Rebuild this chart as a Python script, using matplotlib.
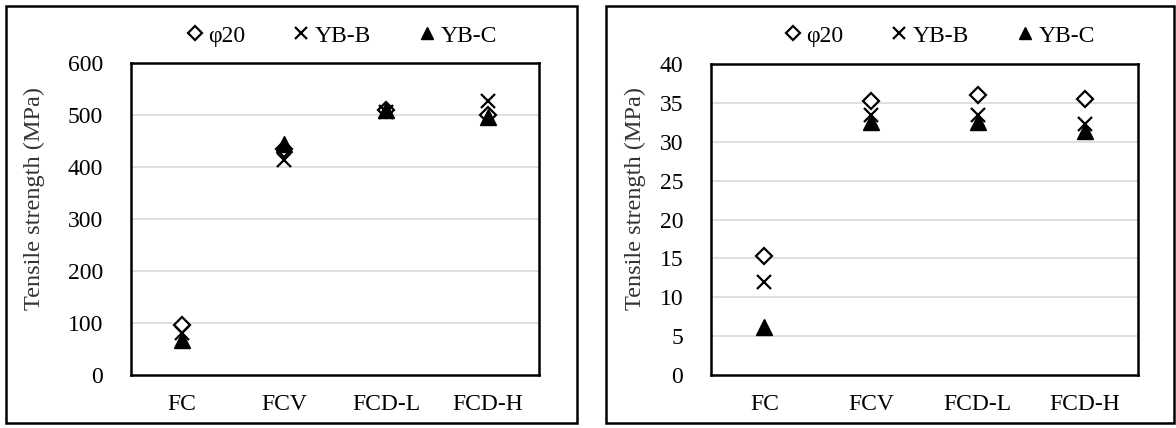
import matplotlib
matplotlib.use("Agg")
import matplotlib.pyplot as plt
from matplotlib.patches import Rectangle
import numpy as np

plt.rcParams['font.family'] = ['Liberation Serif', 'DejaVu Serif']

categories = ["FC", "FCV", "FCD-L", "FCD-H"]
series_names = ["φ20", "YB-B", "YB-C"]

# Left panel: tensile strength (MPa)
left_phi20 = [96, 435, 510, 500]
left_ybb = [80, 413, 505, 527]
left_ybc = [67, 445, 510, 496]
left_yticks = [0, 100, 200, 300, 400, 500, 600]

# Right panel: tensile strength (MPa)
right_phi20 = [15.3, 35.3, 36.0, 35.5]
right_ybb = [12.0, 33.5, 33.4, 32.3]
right_ybc = [6.2, 32.6, 32.5, 31.4]
right_yticks = [0, 5, 10, 15, 20, 25, 30, 35, 40]

W, H = 1176, 428
fig = plt.figure(figsize=(W / 100, H / 100), dpi=100)

def fx(px):
    return px / W

def fy(py):
    return 1 - py / H

def panel(ax_box, frame_box, data, yticks, legend_center, label_x_px, label_y_px):
    x0, x1, y0, y1 = ax_box
    ax = fig.add_axes([fx(x0), fy(y1), fx(x1) - fx(x0), fy(y0) - fy(y1)])
    x = np.arange(len(categories)) + 0.5
    p, b, c = data
    h1, = ax.plot(x, p, linestyle='none', marker='D', markersize=8.5, markerfacecolor='white',
                  markeredgecolor='black', markeredgewidth=1.6, zorder=3)
    h2, = ax.plot(x, b, linestyle='none', marker='x', markersize=10, color='black',
                  markeredgewidth=1.6, zorder=4)
    h3, = ax.plot(x, c, linestyle='none', marker='^', markersize=11, color='black', zorder=5)
    ax.set_xlim(0, len(categories))
    ax.set_ylim(yticks[0], yticks[-1])
    ax.set_yticks(yticks)
    ax.set_yticklabels([str(t) for t in yticks])
    ax.set_xticks(x)
    ax.set_xticklabels(categories)
    ax.tick_params(length=0, labelsize=17)
    ax.tick_params(axis='y', pad=20)
    ax.tick_params(axis='x', pad=14)
    for s in ax.spines.values():
        s.set_linewidth(1.8)
        s.set_color('black')
    for t in yticks[1:-1]:
        ax.axhline(t, color='#d9d9d9', linewidth=1.2, zorder=1)
    ax.set_ylabel("Tensile strength (MPa)", fontsize=17.5, color='#333333')
    ax.yaxis.set_label_coords((label_x_px - x0) / (x1 - x0), (y1 - label_y_px) / (y1 - y0))
    fx0, fx1, fy0, fy1 = frame_box
    fig.patches.append(Rectangle((fx(fx0), fy(fy1)), fx(fx1) - fx(fx0), fy(fy0) - fy(fy1),
                                 transform=fig.transFigure, fill=False, edgecolor='black',
                                 linewidth=1.8))
    fig.legend([h1, h2, h3], series_names, loc='center', ncol=3, frameon=False,
               bbox_to_anchor=(fx(legend_center[0]), fy(legend_center[1])),
               bbox_transform=fig.transFigure, fontsize=17, handlelength=0.8,
               handletextpad=0.15, columnspacing=2.0, markerscale=0.85)
    return ax

panel((131, 539, 63, 375), (6, 577, 6, 423),
      (left_phi20, left_ybb, left_ybc), left_yticks, (341, 36), 45, 199)
panel((711, 1138, 64, 375), (606, 1174, 6, 423),
      (right_phi20, right_ybb, right_ybc), right_yticks, (939, 36), 646, 199)

fig.savefig("out.png", dpi=100)
